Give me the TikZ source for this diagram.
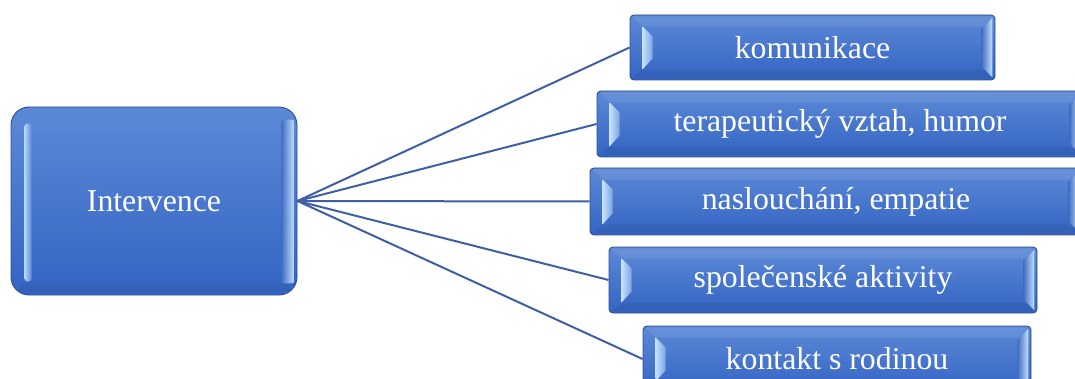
\documentclass[tikz,border=0pt]{standalone}
\usepackage{fontspec}
\setmainfont{Liberation Serif}
\usetikzlibrary{calc}
\definecolor{boxtop}{RGB}{92,137,214}
\definecolor{boxbot}{RGB}{52,100,196}
\definecolor{boxedge}{RGB}{45,78,140}
\definecolor{linec}{RGB}{62,94,166}
\definecolor{hilite}{RGB}{196,226,255}
\definecolor{facetdark}{RGB}{66,110,196}
\tikzset{
  box/.style={draw=boxedge, line width=0.9pt, top color=boxtop, bottom color=boxbot,
    text=white, inner sep=0pt},
  leaf/.style={box, rounded corners=4pt},
  rootbox/.style={box, rounded corners=18pt},
  conn/.style={draw=linec, line width=2pt},
  label/.style={text=white, font=\fontsize{31.8}{32}\selectfont},
}
\newcommand\leafbevel[1]{%
  \fill[white, opacity=0.08] ($(#1.north west)+(3,2)$) -- ($(#1.north west)+(13,12)$) -- ($(#1.north east)+(-13,12)$) -- ($(#1.north east)+(-3,2)$) -- cycle;
  \fill[boxedge, opacity=0.22] ($(#1.south west)+(3,-2)$) -- ($(#1.south west)+(13,-11)$) -- ($(#1.south east)+(-13,-11)$) -- ($(#1.south east)+(-3,-2)$) -- cycle;
  \shade[left color=hilite, right color=boxtop!70!hilite] ($(#1.north west)+(13,12)$) -- ($(#1.north west)+(23,22)$) -- ($(#1.south west)+(23,-22)$) -- ($(#1.south west)+(13,-11)$) -- cycle;
  \shade[left color=facetdark, right color=hilite] ($(#1.north east)+(-3,3)$) -- ($(#1.north east)+(-14,14)$) -- ($(#1.south east)+(-14,-14)$) -- ($(#1.south east)+(-3,-3)$) -- cycle;
}
\begin{document}
\begin{tikzpicture}[x=1pt,y=-1pt]
\useasboundingbox (0,0) rectangle (1075,379);
\clip (0,0) rectangle (1075,379);
% root
\node[rootbox, minimum width=286, minimum height=188] (I) at (154,201) {};
\fill[boxedge, opacity=0.2, rounded corners=6pt] ($(I.south west)+(8,-3)$) rectangle ($(I.south east)+(-8,-12)$);
\shade[left color=hilite!85!boxtop, right color=boxtop, rounded corners=3pt] ($(I.north west)+(14,17)$) rectangle ($(I.south west)+(21,-14)$);
\shade[left color=facetdark, right color=hilite, rounded corners=3pt] ($(I.north east)+(-16,13)$) rectangle ($(I.south east)+(-3,-12)$);
\node[label] (Itext) at (I.center) {Intervence};
% leaves
\node[leaf, minimum width=365, minimum height=65] (k) at (812.5,47.5) {};
\node[leaf, minimum width=486, minimum height=66] (t) at (840,124) {};
\node[leaf, minimum width=492, minimum height=67] (n) at (836,201.5) {};
\node[leaf, minimum width=428, minimum height=66] (s) at (823,280) {};
\node[leaf, minimum width=388, minimum height=66] (r) at (837,359) {};
\leafbevel{k}\leafbevel{t}\leafbevel{n}\leafbevel{s}\leafbevel{r}
\node[label] (kt) at (k.center) {komunikace};
\node[label] (tt) at (t.center) {terapeutický vztah, humor};
\node[label] (nt) at (n.center) {naslouchání, empatie};
\node[label] (st) at (s.center) {společenské aktivity};
\node[label] (rt) at (r.center) {kontakt s rodinou};
% connectors
\draw[conn] (I.east) -- (k.west);
\draw[conn] (I.east) -- (t.west);
\draw[conn] (I.east) -- (n.west);
\draw[conn] (I.east) -- (s.west);
\draw[conn] (I.east) -- (r.west);
\end{tikzpicture}
\end{document}
